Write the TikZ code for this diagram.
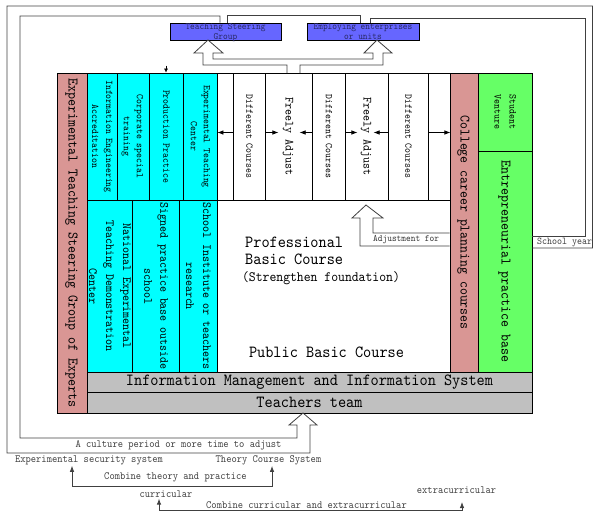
\documentclass[tikz,border=0pt]{standalone}
\usepackage{fontspec}
\setmainfont{lmmono10-regular.otf}[FakeStretch=0.914]
\usepackage{graphicx}
\usetikzlibrary{arrows.meta,positioning}
\definecolor{pinkbox}{RGB}{217,150,148}
\definecolor{cyanbox}{RGB}{0,255,255}
\definecolor{greenbox}{RGB}{102,255,102}
\definecolor{greybar}{RGB}{192,192,192}
\definecolor{bluebox}{RGB}{102,102,255}
\definecolor{navytext}{RGB}{40,40,100}
\newcommand{\fsz}[1]{\fontsize{#1}{#1}\selectfont}
\newcommand{\vtext}[3]{\makebox[0pt]{\rotatebox{-90}{\fontsize{#1}{#2}\selectfont
  \begin{tabular}{@{}c@{}}#3\end{tabular}}}}
\newcommand{\btext}[1]{\smash{\raisebox{-3pt}{\fontsize{9.8}{10}\selectfont
  \begin{tabular}{@{}c@{}}#1\end{tabular}}}}
\newcommand{\drawcell}[7]{
  \pgfmathparse{#4-#2}
  \let\cellw\pgfmathresult
  \pgfmathparse{#5-#3}
  \let\cellh\pgfmathresult
  % box from (#2,#3) to (#4,#5)
  \node[cell,fill=#6,minimum width=\cellw pt,minimum height=\cellh pt]
    (#1) at ({0.5*#2+0.5*#4},{0.5*#3+0.5*#5}) {#7};
}
\begin{document}
\begin{tikzpicture}[x=1pt,y=-1pt,
  cell/.style={draw=black,line width=0.8pt,inner sep=0pt},
  conn/.style={draw=black!75,line width=0.8pt},
  tip/.style={-{Latex[length=6pt,width=4.5pt]},line width=0.7pt},
  lbl/.style={inner sep=1pt,font=\fsz{11},text=black!75}]
\useasboundingbox (0,0) rectangle (593,514);

% left block
\drawcell{experts}{57}{73}{87}{413}{pinkbox}{\vtext{14.6}{17}{Experimental Teaching Steering Group of Experts}}
\drawcell{infoeng}{87}{73}{117}{200}{cyanbox}{\vtext{10.2}{14}{Information Engineering\\Accreditation}}
\drawcell{corptrain}{117}{73}{149}{200}{cyanbox}{\vtext{10.2}{13}{Corporate special\\training}}
\drawcell{prodprac}{149}{73}{183}{200}{cyanbox}{\vtext{10.2}{13}{Production Practice}}
\drawcell{expcenter}{183}{73}{217}{200}{cyanbox}{\vtext{10.2}{13}{Experimental Teaching\\Center}}
\drawcell{natexp}{87}{200}{132}{372}{cyanbox}{\vtext{12.5}{17}{National Experimental\\Teaching Demonstration\\Center}}
\drawcell{signed}{132}{200}{179}{372}{cyanbox}{\vtext{12.5}{16}{Signed practice base outside\\school}}
\drawcell{instres}{179}{200}{217}{372}{cyanbox}{\vtext{12.5}{17}{School Institute or teachers\\research}}

% course columns
\drawcell{blankl}{217}{73}{233}{200}{white}{}
\drawcell{diffa}{233}{73}{265}{200}{white}{\vtext{10.2}{13}{Different Courses}}
\drawcell{adjusta}{265}{73}{312}{200}{white}{\vtext{12.5}{15}{Freely Adjust}}
\drawcell{diffb}{312}{73}{345}{200}{white}{\vtext{10.2}{13}{Different Courses}}
\drawcell{adjustb}{345}{73}{388}{200}{white}{\vtext{12.5}{15}{Freely Adjust}}
\drawcell{diffc}{388}{73}{428}{200}{white}{\vtext{10.2}{13}{Different Courses}}
\drawcell{blankr}{428}{73}{450}{200}{white}{}
\drawcell{basearea}{217}{200}{450}{372}{white}{}
\node[inner sep=0pt,anchor=west,align=left,font=\fsz{17}] (profcourse) at (245,251) {Professional\\Basic Course};
\node[inner sep=0pt,font=\fsz{14.3}] (strengthen) at (321,278) {(Strengthen foundation)};
\node[inner sep=0pt,font=\fsz{17}] (pubcourse) at (326.5,352) {Public Basic Course};

% right block
\drawcell{career}{450}{73}{478}{372}{pinkbox}{\vtext{14.4}{17}{College career planning courses}}
\drawcell{venture}{478}{73}{532}{151}{greenbox}{\vtext{10.4}{15}{Student\\Venture}}
\drawcell{entrebase}{478}{151}{532}{372}{greenbox}{\vtext{14.5}{17}{Entrepreneurial practice base}}
\drawcell{infosys}{87}{372}{532}{392}{greybar}{\fsz{17}Information Management and Information System}
\drawcell{teachers}{87}{392}{532}{413}{greybar}{\fsz{17}Teachers team}

% top boxes
\drawcell{steering}{170}{23}{281}{40}{bluebox}{\color{navytext}\btext{Teaching Steering\\Group}}
\drawcell{employ}{307}{23}{419}{40}{bluebox}{\color{navytext}\btext{Employing enterprises\\or units}}

% loops
\draw[conn] ([yshift=13.5pt]entrebase.east) -- (592.5,248) -- (592.5,6) -- (7,6) -- (7,453)
  -- (310,453) -- (310,425) -- (317,425) -- (303,413) -- (289,425) -- (297,425) -- (297,438)
  -- (20,438) -- (20,16) -| ([xshift=-5.5pt]steering.north);
\draw[conn] ([xshift=1.5pt]steering.north) -- ++(0,-7) -| ([xshift=-3pt]employ.north);
\draw[conn] ([xshift=7pt]employ.north) |- (585,18) |- ([yshift=25.5pt]entrebase.east);
\node[lbl,font=\fsz{10.4},anchor=west] (schoolyear) at (536,242) {School year};

% block arrows
\draw[conn] (287,73) -- (287,65) -- (203,65) -- (203,53) -- (194,53) -- (208,40) -- (223,53)
  -- (213,53) -- (213,59) -- (373,59) -- (373,53) -- (364,53) -- (377,40) -- (392,53)
  -- (383,53) -- (383,65) -- (300,65) -- (300,73);
\draw[conn] ([yshift=-23.5pt]career.west) -- (360,246) -- (360,218) -- (352,218) -- (366,205)
  -- (383,218) -- (373,218) -- (373,233) -- ([yshift=-10.5pt]career.west);
\node[inner sep=0pt,anchor=west,font=\fsz{9.8},text=black!80] (adjlabel) at (373,240) {Adjustment for};

% small arrows
\draw[tip] ([yshift=4pt]diffa.west) -- ([yshift=4pt]expcenter.east);
\draw[tip] ([yshift=4pt]diffa.east) -- ++(13,0);
\draw[tip] ([yshift=4pt]diffb.west) -- ++(-12,0);
\draw[tip] ([yshift=4pt]diffb.east) -- ++(12,0);
\draw[tip] ([yshift=4pt]diffc.west) -- ++(-14,0);
\draw[tip] ([yshift=4pt]diffc.east) -- ([yshift=4pt]blankr.east);
\draw[-{Latex[length=4pt,width=4pt]},line width=0.6pt] ([yshift=7pt]prodprac.north) -- (prodprac.north);

% bottom labels
\node[lbl] (culture) at (178.5,445) {A culture period or more time to adjust};
\node[lbl] (expsec) at (89,460) {Experimental security system};
\node[lbl] (theory) at (268.5,460) {Theory Course System};
\node[lbl] (combtheory) at (175.5,477) {Combine theory and practice};
\node[lbl] (curric) at (166,494) {curricular};
\node[lbl] (extracurric) at (456.5,490) {extracurricular};
\node[lbl] (combcurric) at (306.5,505) {Combine curricular and extracurricular};
\coordinate (extraend) at (462,502);
\draw[conn,{Latex[length=6pt,width=4.5pt]}-{Latex[length=6pt,width=4.5pt]}]
  ([xshift=-17pt]expsec.south) -- ++(0,21) -| ([xshift=3.5pt]theory.south);
\draw[conn,{Latex[length=6pt,width=4.5pt]}-{Latex[length=6pt,width=4.5pt]}]
  ([xshift=-7pt]curric.south) -- ++(0,12) -| (extraend);
\end{tikzpicture}
\end{document}
